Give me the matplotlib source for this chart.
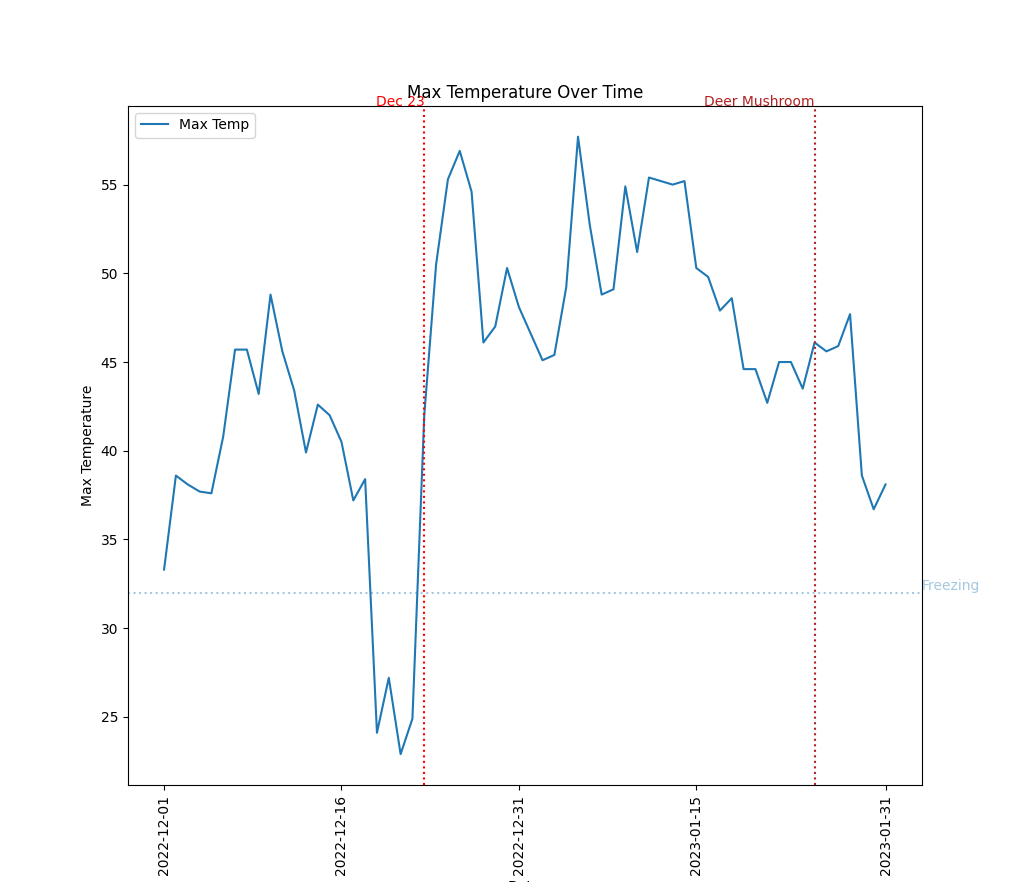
"""
Max temperature over time, Dec 2022 - Jan 2023, with a couple of marked events
"""
import matplotlib
matplotlib.use("Agg")
import matplotlib.pyplot as plt
import pandas as pd

start_date = "2022-12-01"
max_temp = [
	33.3, 38.6, 38.1, 37.7, 37.6, 40.8, 45.7, 45.7, 43.2, 48.8,
	45.6, 43.4, 39.9, 42.6, 42.0, 40.5, 37.2, 38.4, 24.1, 27.2,
	22.9, 24.9, 42.0, 50.5, 55.3, 56.9, 54.6, 46.1, 47.0, 50.3,
	48.1, 46.6, 45.1, 45.4, 49.2, 57.7, 52.7, 48.8, 49.1, 54.9,
	51.2, 55.4, 55.2, 55.0, 55.2, 50.3, 49.8, 47.9, 48.6, 44.6,
	44.6, 42.7, 45.0, 45.0, 43.5, 46.1, 45.6, 45.9, 47.7, 38.6,
	36.7, 38.1,
]
tick_dates = ["2022-12-01", "2022-12-16", "2022-12-31", "2023-01-15", "2023-01-31"]
events = ["2022-12-23", "2023-01-25"]
event_labels = ["Dec 23", "Deer Mushroom"]
event_colors = ["red", "firebrick"]
freezing = 32


def main():
	dates = pd.date_range(start_date, periods=len(max_temp), freq="D")
	df = pd.DataFrame({"Date": dates, "Max Temp": max_temp})

	fig, ax = plt.subplots(figsize=(10.24, 8.82), dpi=100)
	ax.plot(df["Date"], df["Max Temp"], label="Max Temp")

	ymin, ymax = ax.get_ylim()
	xmin, xmax = ax.get_xlim()

	for day, label, color in zip(events, event_labels, event_colors):
		ts = pd.Timestamp(day)
		ax.axvline(ts, color=color, linestyle=":")
		ax.text(ts, ymax, label, color=color, ha="right")

	ax.axhline(freezing, color="tab:blue", alpha=0.4, linestyle=":")
	ax.text(xmax, freezing, "Freezing", color="tab:blue", alpha=0.4, va="bottom")

	ticks = pd.to_datetime(tick_dates)
	ax.set_xticks(ticks)
	ax.set_xticklabels([t.strftime("%Y-%m-%d") for t in ticks], rotation=90)

	ax.set_ylim(ymin, ymax)
	ax.set_xlim(xmin, xmax)
	ax.set_title("Max Temperature Over Time")
	ax.set_xlabel("Date")
	ax.set_ylabel("Max Temperature")
	ax.legend(loc="upper left")
	fig.savefig("out.png", dpi=100)


main()
